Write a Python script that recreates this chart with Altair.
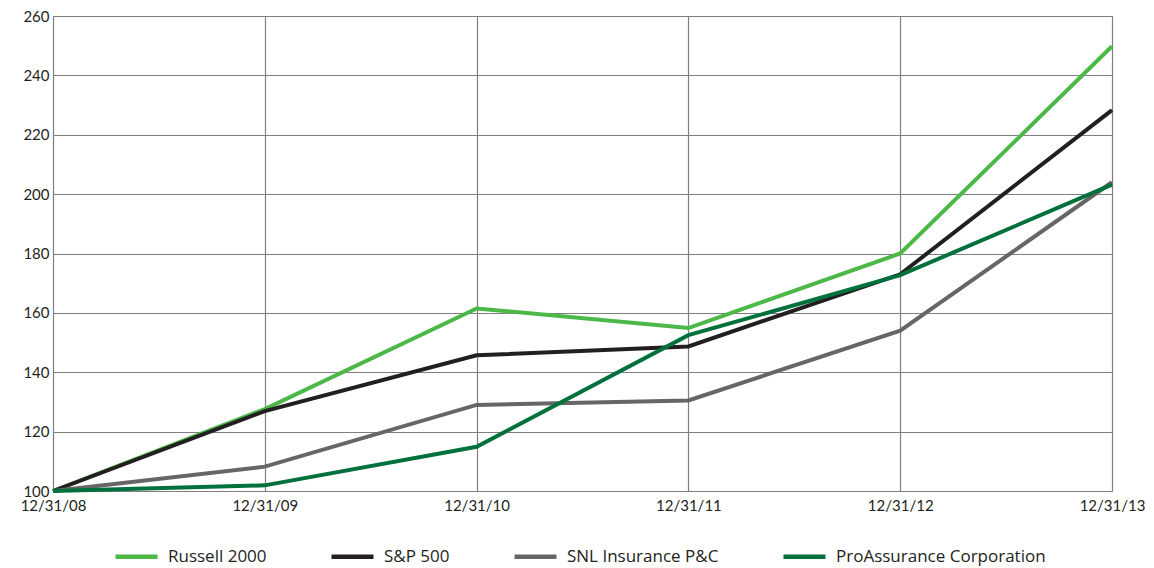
import altair as alt
import pandas as pd

dates = ["12/31/08", "12/31/09", "12/31/10", "12/31/11", "12/31/12", "12/31/13"]
series_names = ["Russell 2000", "S&P 500", "SNL Insurance P&C", "ProAssurance Corporation"]
russell = [100, 127.6, 161.5, 154.9, 180.0, 249.8]
sp500 = [100, 126.9, 145.7, 148.7, 173.0, 228.3]
snl = [100, 108.2, 129.0, 130.5, 154.0, 204.0]
proassurance = [100, 101.9, 114.9, 152.5, 172.7, 203.2]
colors = ["#4cb848", "#231f20", "#666666", "#00703c"]

rows = []
for name, vals in zip(series_names, [russell, sp500, snl, proassurance]):
    for d, v in zip(dates, vals):
        rows.append({"date": d, "series": name, "value": v})
df = pd.DataFrame(rows)

chart = alt.Chart(df).mark_line(strokeWidth=4).encode(
    x=alt.X("date:N", sort=dates, title=None,
            scale=alt.Scale(type="point", padding=0),
            axis=alt.Axis(labelAngle=0, ticks=False, domain=False, grid=True,
                          gridColor="#7f7f7f", gridWidth=1.2, labelPadding=7,
                          labelFontSize=15, labelColor="#231f20", labelFont="Lato")),
    y=alt.Y("value:Q", title=None,
            scale=alt.Scale(domain=[100, 260], nice=False, zero=False),
            axis=alt.Axis(values=list(range(100, 261, 20)), ticks=False, domain=False,
                          grid=True, gridColor="#7f7f7f", gridWidth=1.2, labelPadding=4,
                          labelFontSize=15, labelColor="#231f20", labelFont="Lato",
                          minExtent=45, maxExtent=45)),
    color=alt.Color("series:N", sort=series_names, title=None,
                    scale=alt.Scale(domain=series_names, range=colors),
                    legend=alt.Legend(orient="none", legendX=60, legendY=517,
                                      direction="horizontal",
                                      symbolType="stroke", symbolSize=1764,
                                      symbolStrokeWidth=4.5, labelFontSize=17,
                                      labelFont="Open Sans", labelColor="#231f20",
                                      labelOffset=8,
                                      columnPadding=55, labelLimit=400)),
    order=alt.Order("series:N"),
).properties(
    width=1059, height=475,
    padding={"left": 0, "top": 1, "right": 0, "bottom": 0},
).configure_view(
    fill="#ebebed", stroke="#7f7f7f", strokeWidth=1.5
).configure(background="white")

chart.save("out.html", embed_options={"renderer": "svg", "actions": False})
